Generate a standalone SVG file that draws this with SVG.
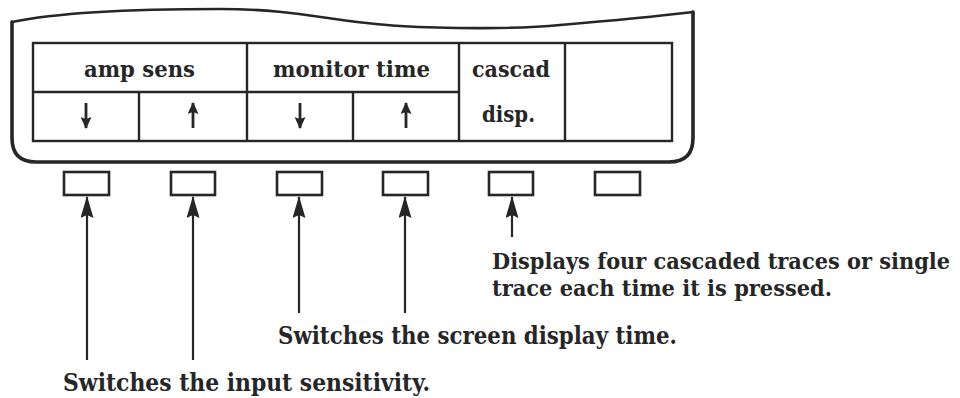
<svg xmlns="http://www.w3.org/2000/svg" width="960" height="398" viewBox="0 0 960 398">
  <style>
    .ink { fill: none; stroke: #262626; stroke-linejoin: round; stroke-linecap: round; }
    .cell { fill: none; stroke: #262626; stroke-width: 2.4; }
    .key { fill: #ffffff; stroke: #262626; stroke-width: 2.6; }
    .lead { stroke: #262626; stroke-width: 2.2; fill: none; }
    .tick { stroke: #262626; stroke-width: 2.8; fill: none; }
    .lbl { font-family: "DejaVu Serif", "Liberation Serif", serif; font-weight: bold; fill: #262626; }
  </style>
  <defs>
    <marker id="head" viewBox="0 0 22 13" refX="21" refY="6.5" markerWidth="22" markerHeight="13" markerUnits="userSpaceOnUse" orient="auto">
      <path d="M0,0 L22,6.5 L0,13 L3,6.5 Z" fill="#262626"/>
    </marker>
    <marker id="small-head" viewBox="0 0 12 11" refX="11" refY="5.5" markerWidth="12" markerHeight="11" markerUnits="userSpaceOnUse" orient="auto">
      <path d="M0,0 L12,5.5 L0,11 L2,5.5 Z" fill="#262626"/>
    </marker>
  </defs>
  <rect width="960" height="398" fill="#ffffff"/>

  <!-- instrument panel housing -->
  <g id="housing">
    <path class="ink" stroke-width="2.6" d="M12,22 C60,12 140,9 220,9 C300,9 330,22 400,26 C450,29 520,29 560,25 C620,20 660,16 693,12"/>
    <path class="ink" stroke-width="3.6" d="M12,22 L12,138 Q12,162 36,162 L669,162 Q693,162 693,138 L693,12"/>
  </g>

  <!-- soft-key label table -->
  <g id="label-table">
    <rect class="cell" x="33" y="43" width="639" height="98"/>
    <line class="cell" x1="33" y1="92" x2="459" y2="92"/>
    <line class="cell" x1="247" y1="43" x2="247" y2="141"/>
    <line class="cell" x1="459" y1="43" x2="459" y2="141"/>
    <line class="cell" x1="565" y1="43" x2="565" y2="141"/>
    <line class="cell" x1="139" y1="92" x2="139" y2="141"/>
    <line class="cell" x1="353" y1="92" x2="353" y2="141"/>
  </g>
  <g id="label-amp-sens">
    <text class="lbl" x="84" y="77" font-size="22" textLength="111" lengthAdjust="spacingAndGlyphs">amp sens</text>
    <line class="tick" x1="86" y1="103" x2="86" y2="128" marker-end="url(#small-head)"/>
    <line class="tick" x1="193" y1="128" x2="193" y2="103" marker-end="url(#small-head)"/>
  </g>
  <g id="label-monitor-time">
    <text class="lbl" x="273" y="77" font-size="22" textLength="157" lengthAdjust="spacingAndGlyphs">monitor time</text>
    <line class="tick" x1="300" y1="103" x2="300" y2="128" marker-end="url(#small-head)"/>
    <line class="tick" x1="406" y1="128" x2="406" y2="103" marker-end="url(#small-head)"/>
  </g>
  <g id="label-cascad-disp">
    <text class="lbl" x="472" y="77" font-size="22" textLength="78" lengthAdjust="spacingAndGlyphs">cascad</text>
    <text class="lbl" x="482" y="122" font-size="22" textLength="53" lengthAdjust="spacingAndGlyphs">disp.</text>
  </g>

  <!-- push buttons under the panel -->
  <g id="key-1"><rect class="key" x="64" y="172" width="45" height="23"/></g>
  <g id="key-2"><rect class="key" x="171" y="172" width="44" height="23"/></g>
  <g id="key-3"><rect class="key" x="277" y="172" width="45" height="23"/></g>
  <g id="key-4"><rect class="key" x="383" y="172" width="45" height="23"/></g>
  <g id="key-5"><rect class="key" x="489" y="172" width="44" height="23"/></g>
  <g id="key-6"><rect class="key" x="595" y="172" width="45" height="23"/></g>

  <!-- leader arrows -->
  <g id="connectors">
    <line class="lead" x1="87" y1="360" x2="87" y2="197" marker-end="url(#head)"/>
    <line class="lead" x1="193" y1="360" x2="193" y2="197" marker-end="url(#head)"/>
    <line class="lead" x1="299" y1="313" x2="299" y2="197" marker-end="url(#head)"/>
    <line class="lead" x1="405" y1="313" x2="405" y2="197" marker-end="url(#head)"/>
    <line class="lead" x1="512" y1="237" x2="512" y2="197" marker-end="url(#head)"/>
  </g>

  <!-- explanatory notes -->
  <g id="note-cascade">
    <text class="lbl" x="492" y="269" font-size="22" textLength="458" lengthAdjust="spacingAndGlyphs">Displays four cascaded traces or single</text>
    <text class="lbl" x="492" y="296" font-size="22" textLength="340" lengthAdjust="spacingAndGlyphs">trace each time it is pressed.</text>
  </g>
  <g id="note-time">
    <text class="lbl" x="278" y="344" font-size="25" textLength="399" lengthAdjust="spacingAndGlyphs">Switches the screen display time.</text>
  </g>
  <g id="note-sens">
    <text class="lbl" x="63" y="391" font-size="25" textLength="367" lengthAdjust="spacingAndGlyphs">Switches the input sensitivity.</text>
  </g>
</svg>
